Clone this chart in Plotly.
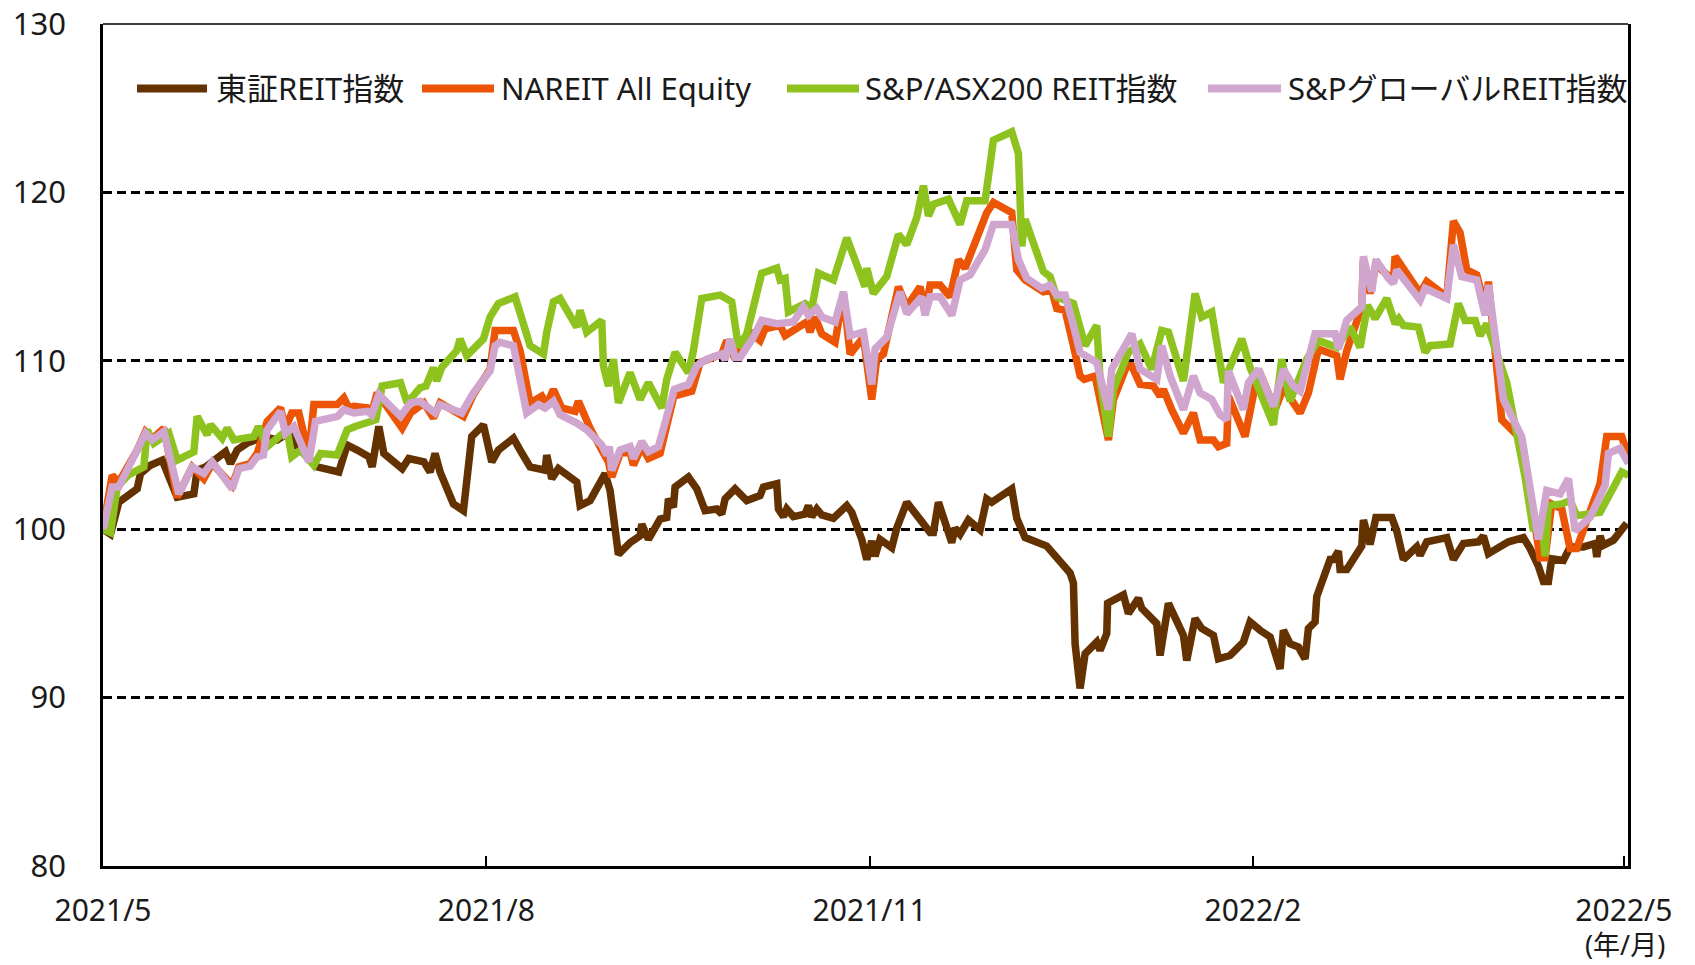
import pandas as pd
import plotly.graph_objects as go

# ---------------- data (index, start = 100) ----------------
START = "2021-05-01"
series_names = ["東証REIT指数", "NAREIT All Equity", "S&P/ASX200 REIT指数", "S&PグローバルREIT指数"]
series_colors = ["#633200", "#EB5505", "#8EC31F", "#D0A6CF"]

tse_days = [0, 1.8, 3.8, 8.2, 9, 11.4, 14.2, 17.8, 21.8, 22.6, 24.6, 29.4, 30.6, 32.2, 34.5, 38.6, 41.8, 45, 46.6,
            51.4, 56.6, 58.6, 61, 63.8, 64.6, 66.2, 67.4, 71.8, 73.4, 77, 78.5, 79.7, 80.9, 84.1, 86.5, 88.5, 91.3,
            93.3, 94.9, 98.5, 100.1, 102.5, 106.1, 106.5, 107.7, 109.3, 113.7, 114.5, 116.9, 120.5, 121.7, 123.7,
            126.5, 128.9, 129.3, 130.9, 133.7, 135.3, 135.7, 136.9, 137.3, 140.5, 142.5, 144.5, 147.3, 148.5, 149.3,
            151.7, 154.5, 157.7, 158.5, 161.7, 162.1, 163.3, 164.1, 165.7, 168.5, 169.3, 170.1, 171.3, 172.5, 175.3,
            178.5, 179.7, 182.1, 183.3, 184.5, 185.3, 186.5, 189.3, 190.5, 192.9, 196.5, 198.5, 199.3, 200.5, 203.7,
            204.5, 205.7, 207.7, 210.5, 212.1, 213.3, 218.1, 219.3, 221.3, 226.5, 228.5, 230.5, 232.1, 232.9, 233.3,
            234.5, 235.7, 238.5, 239.3, 240.9, 241.1, 244.9, 246.1, 248.5, 249.3, 252.9, 253.7, 255.7, 259.3, 260.1,
            262.1, 263.7, 266.5, 267.7, 270.5, 273.7, 275.3, 277.7, 280.1, 282.5, 283.3, 284.9, 286.9, 288.5, 289.3,
            290.9, 291.3, 294.5, 295.3, 296.5, 296.9, 298.5, 302.1, 302.5, 304.1, 305.5, 309.3, 310.5, 312.1, 315.3,
            316.1, 317.7, 322.5, 324.1, 326.5, 330.1, 331.3, 332.5, 337.3, 340.9, 342.5, 344.5, 345.7, 346.9, 347.7,
            350.5, 352.1, 355.3, 358.1, 358.5, 359.3, 360.1, 362.5, 365.7]
tse_vals = [100.0, 99.7, 101.6, 102.4, 103.3, 103.8, 104.1, 101.9, 102.1, 103.5, 103.7, 104.6, 103.9, 104.7, 105.1,
            105.5, 105.3, 105.8, 104.9, 103.7, 103.4, 105.0, 104.7, 104.3, 103.7, 106.1, 104.5, 103.6, 104.2, 104.0,
            103.4, 104.5, 103.4, 101.5, 101.1, 105.5, 106.2, 104.0, 104.7, 105.4, 104.7, 103.7, 103.5, 104.4, 103.0,
            103.6, 102.8, 101.4, 101.7, 103.3, 102.3, 98.5, 99.2, 99.6, 100.3, 99.4, 100.6, 100.7, 101.8, 101.3, 102.5,
            103.1, 102.4, 101.1, 101.2, 100.9, 101.8, 102.4, 101.7, 102.0, 102.5, 102.7, 101.2, 100.75, 101.2, 100.75,
            100.9, 101.4, 100.75, 101.2, 100.85, 100.65, 101.4, 101.0, 99.4, 98.2, 99.3, 98.4, 99.4, 98.9, 100.06,
            101.6, 100.45, 99.8, 99.8, 101.6, 99.2, 100.06, 99.7, 100.55, 99.96, 101.8, 101.6, 102.4, 100.65, 99.5,
            99.0, 98.4, 97.9, 97.4, 96.8, 93.2, 90.55, 92.6, 93.3, 92.8, 93.8, 95.6, 96.1, 95.0, 95.9, 95.3, 94.4,
            92.5, 95.6, 93.7, 92.2, 94.7, 94.1, 93.7, 92.3, 92.5, 93.3, 94.5, 94.0, 93.6, 91.7, 94.0, 93.2, 93.0,
            92.3, 94.1, 94.5, 96.0, 98.2, 98.2, 98.7, 97.6, 97.6, 99.0, 100.55, 99.1, 100.7, 100.7, 99.9, 98.2, 98.95,
            98.45, 99.25, 99.5, 98.2, 99.15, 99.25, 99.6, 98.55, 99.25, 99.5, 98.85, 97.8, 96.9, 96.9, 98.25, 98.15,
            98.95, 98.95, 99.15, 98.35, 99.6, 99.05, 99.35, 100.35]

nareit_days = [0, 2.2, 3.8, 8.2, 10.2, 12, 14.6, 17.8, 21.4, 24.2, 26.2, 31, 32.6, 35.3, 37, 39.4, 42.6, 43.8, 45.3,
               47, 49.4, 50.6, 56.2, 57.8, 59, 60.2, 63.5, 64.6, 65.8, 71.8, 73.8, 77, 79.3, 80.9, 86.5, 88.9, 92.9,
               94.1, 98.5, 100.1, 102.5, 105.3, 106.5, 108.1, 110.1, 113.3, 114.1, 116.9, 119.7, 121.3, 122.1, 124.1,
               126.5, 127.3, 129.3, 130.9, 133.7, 137, 141.3, 143.3, 148.5, 149.7, 151.7, 152.9, 155.3, 157.7, 158.9,
               162.5, 163.7, 166.1, 168.9, 169.7, 170.9, 172.5, 175.7, 177.7, 179.3, 182.5, 184.5, 185.7, 187.3,
               190.9, 192.9, 196.1, 197.3, 198.5, 200.9, 203.3, 205.3, 206.9, 210.5, 212.1, 213.7, 218.1, 219.3,
               221.3, 225.7, 227.7, 228.9, 230.9, 232.9, 234.5, 235.5, 238.1, 241.3, 242.5, 245.7, 246.9, 248.9,
               252.1, 253.7, 254.5, 256.5, 259.3, 261.7, 263.3, 266.5, 267.7, 269.7, 270.1, 274.1, 277.3, 281.3,
               283.3, 285.7, 287.3, 289.3, 291.7, 296.1, 296.9, 298.5, 302.1, 302.5, 304.1, 305.5, 309.7, 310.1,
               312.1, 316.1, 317.7, 322.5, 324.1, 325.7, 327.3, 329.7, 331.7, 332.5, 335.7, 340.5, 344.9, 346.1,
               347.7, 350.1, 352.1, 353.7, 359.3, 360.9, 364.5, 366.1]
nareit_vals = [100.0, 103.2, 102.8, 104.7, 105.8, 105.4, 106.0, 101.9, 103.7, 103.0, 103.9, 102.6, 103.7, 103.9,
               104.5, 106.4, 107.2, 106.0, 106.9, 106.9, 104.4, 107.4, 107.4, 107.8, 107.2, 107.3, 107.2, 107.0,
               108.1, 106.0, 106.9, 107.5, 106.6, 107.5, 106.7, 108.0, 109.5, 111.8, 111.8, 110.6, 107.5, 107.9,
               107.4, 108.3, 107.2, 107.0, 107.6, 106.0, 104.7, 104.0, 103.1, 104.5, 104.6, 103.8, 104.9, 104.2,
               104.5, 107.9, 108.2, 109.9, 110.4, 111.2, 110.1, 110.8, 111.7, 111.2, 111.9, 112.1, 111.5, 111.9,
               112.3, 111.7, 112.6, 111.6, 111.1, 114.0, 110.4, 111.4, 107.7, 110.1, 110.4, 114.4, 113.2, 114.4,
               112.9, 114.5, 114.5, 113.8, 116.0, 115.5, 118.0, 118.8, 119.4, 118.8, 115.4, 114.8, 114.1, 114.2,
               113.1, 113.0, 110.9, 109.1, 108.9, 109.1, 105.3, 107.7, 109.7, 109.7, 108.6, 108.5, 107.9, 108.3,
               107.1, 105.7, 106.9, 105.3, 105.3, 104.9, 105.1, 107.9, 105.5, 109.5, 107.1, 108.4, 107.5, 106.9,
               108.1, 110.7, 110.3, 108.9, 110.6, 113.2, 116.0, 114.0, 115.7, 114.8, 116.2, 115.4, 114.0, 114.7,
               113.8, 118.3, 117.6, 115.4, 115.1, 113.2, 114.7, 106.5, 105.3, 98.3, 98.3, 101.5, 101.2, 98.85,
               98.85, 102.7, 105.5, 105.5, 104.3]

asx_days = [0, 1.8, 3.4, 6, 9.8, 10.6, 12.2, 15.8, 17.8, 21.8, 22.6, 25, 25.8, 28.6, 29.8, 31.4, 36.2, 37.3, 39.4,
            44.2, 45.3, 47.4, 50.6, 52.2, 56.2, 58.6, 60.5, 63.4, 65.5, 67, 71.4, 73, 76.1, 77.5, 79.3, 80.1, 81.3,
            84.9, 85.7, 87.3, 91.3, 92.9, 94.9, 98.9, 102.5, 105.7, 106.5, 108.1, 109.7, 113.7, 114.5, 116.1, 119.7,
            120.1, 121.3, 122.5, 123.7, 126.5, 128.9, 130.9, 134.1, 135.3, 137.3, 140.5, 141.7, 143.7, 148.1, 150.9,
            152.5, 154.5, 158.1, 161.7, 162.5, 163.7, 164.5, 168.5, 170.1, 171.7, 175.3, 178.5, 180.1, 182.9, 183.3,
            184.9, 188.1, 190.9, 192.9, 195.3, 196.9, 198.1, 199.3, 202.9, 205.7, 207.3, 211.7, 213.7, 218.1, 219.7,
            220.5, 221.3, 225.7, 227.3, 228.9, 232.9, 235.7, 238.5, 239.3, 241.3, 242.5, 246.1, 248.9, 251.7, 254.1,
            255.7, 259.3, 262.1, 263.7, 266.1, 268.9, 273.3, 275.3, 280.9, 282.9, 284.9, 288.9, 291.7, 296.1, 299.3,
            301.7, 303.5, 305.3, 308.1, 310.1, 311, 312.1, 315.7, 317.3, 318.5, 323.3, 325.3, 326.9, 329.3, 330.5,
            332.1, 336.9, 338.5, 341.3, 343.3, 345.3, 346.1, 346.9, 350.1, 352.1, 353.7, 356.9, 359.3, 364.5, 366.1]
asx_vals = [100.0, 99.8, 102.5, 103.2, 103.7, 105.9, 105.1, 105.7, 104.1, 104.6, 106.7, 105.6, 106.2, 105.4, 106.0,
            105.3, 105.5, 106.1, 104.9, 105.9, 104.3, 104.7, 103.8, 104.5, 104.4, 105.9, 106.1, 106.3, 106.5, 108.5,
            108.7, 107.5, 108.4, 108.5, 109.6, 108.8, 109.6, 110.6, 111.3, 110.3, 111.3, 112.6, 113.4, 113.8, 110.9,
            110.4, 111.7, 113.5, 113.7, 112.0, 113.0, 111.7, 112.4, 109.7, 108.5, 110.1, 107.5, 109.3, 107.7, 108.7,
            107.2, 108.9, 110.5, 109.3, 110.6, 113.7, 113.9, 113.5, 110.8, 111.6, 115.2, 115.5, 114.8, 114.9, 112.9,
            113.4, 113.1, 115.2, 114.8, 117.3, 116.2, 114.4, 115.5, 114.0, 115.0, 117.5, 116.9, 118.5, 120.4, 118.6,
            119.3, 119.6, 118.1, 119.5, 119.5, 123.1, 123.6, 122.3, 116.8, 118.4, 115.3, 115.0, 113.8, 113.4, 110.9,
            112.1, 108.9, 105.5, 108.3, 110.5, 111.0, 109.5, 111.8, 111.7, 108.8, 114.0, 112.6, 112.9, 108.7, 111.3,
            109.6, 106.2, 110.1, 107.6, 110.1, 111.2, 110.8, 112.0, 110.8, 113.3, 112.5, 113.7, 112.2, 112.5, 112.1,
            112.0, 110.5, 110.9, 111.0, 113.4, 112.4, 112.4, 111.5, 112.2, 108.7, 106.7, 103.1, 99.9, 100.5, 98.4,
            101.4, 101.5, 101.7, 100.8, 100.9, 101.0, 103.4, 103.2]

global_days = [0, 2.2, 3.75, 6, 8.2, 10.2, 11.8, 14.6, 18.2, 21.4, 24.2, 26.2, 31, 32.6, 35.3, 37, 38.5, 39.4, 42.6,
               43.8, 45.8, 49.4, 51, 56.3, 57.8, 60.2, 63.5, 64.5, 66.2, 71.4, 73.8, 76.1, 79.7, 80.9, 86.1, 88.9,
               92.9, 94.1, 95.3, 98.5, 99.3, 101.7, 104.5, 106.1, 108.1, 109.7, 113.7, 116.1, 119.7, 120.9, 121.5,
               122.1, 124.1, 126.5, 127.3, 129.3, 130.9, 133.3, 137.1, 140.5, 142.5, 144.9, 148.5, 149.3, 150.5,
               151.7, 152.9, 156.1, 158.1, 161.7, 165.7, 168.1, 169.3, 171.3, 172.5, 175.7, 177.7, 179.3, 182.5,
               184.5, 185.3, 188.1, 191.3, 192.9, 196.5, 197.3, 198.5, 200.9, 203.7, 205.7, 208.1, 211.7, 213.7,
               218.1, 219.7, 221.7, 225.3, 227.3, 228.9, 230.9, 232.9, 234.5, 238.5, 241.3, 242.1, 244.9, 246.9,
               248.9, 252.9, 254.1, 256.1, 259.3, 261.7, 263.3, 266.1, 268.1, 269.7, 270.1, 273.7, 274.9, 277.3,
               280.9, 283.3, 285.7, 287.3, 290.9, 295.7, 296.5, 298.5, 302.1, 302.5, 304.5, 305.5, 308.5, 309.7,
               310.5, 316.1, 317.3, 322.5, 324.1, 326.1, 329.7, 331.7, 332.5, 336.1, 340.5, 344.5, 346.5, 349.7,
               351.7, 353.3, 356.9, 360.5, 361.3, 364.1, 366.1]
global_vals = [100.0, 102.5, 102.5, 103.5, 104.7, 105.7, 105.3, 105.8, 102.1, 103.7, 103.3, 104.0, 102.4, 103.6,
               103.75, 104.3, 104.4, 105.9, 107.0, 105.7, 106.1, 104.0, 106.4, 106.7, 107.1, 106.9, 107.0, 106.8,
               108.0, 106.7, 107.5, 107.6, 106.9, 107.4, 106.9, 108.1, 109.4, 110.9, 111.1, 110.9, 110.0, 106.9,
               107.4, 107.2, 107.6, 106.8, 106.3, 105.9, 105.0, 104.4, 104.9, 103.5, 104.7, 104.9, 104.2, 105.2,
               104.6, 104.9, 108.3, 108.6, 109.7, 110.1, 110.4, 110.05, 111.3, 110.2, 110.2, 111.4, 112.4, 112.2,
               112.3, 113.2, 112.7, 113.1, 112.6, 112.3, 114.1, 111.5, 111.7, 108.6, 110.7, 111.4, 114.1, 112.8,
               113.8, 112.7, 113.8, 113.8, 112.7, 114.8, 115.1, 116.6, 118.1, 118.1, 116.0, 114.9, 114.3, 114.5,
               113.9, 113.9, 112.1, 110.5, 109.9, 107.1, 109.5, 110.7, 111.6, 109.5, 108.9, 110.9, 109.1, 107.1,
               109.1, 108.1, 107.7, 106.8, 106.5, 109.4, 107.1, 108.7, 109.5, 107.3, 109.5, 108.5, 108.2, 111.6,
               111.6, 110.7, 112.4, 113.2, 116.2, 114.1, 116.0, 114.9, 114.6, 115.4, 113.6, 114.3, 113.7, 116.9,
               115.0, 114.8, 112.7, 114.5, 107.7, 105.5, 99.4, 102.3, 102.1, 103.0, 99.9, 100.7, 102.6, 104.5,
               104.8, 103.9]

x_tick_dates = ["2021-05-01", "2021-08-01", "2021-11-01", "2022-02-01", "2022-05-01"]
x_tick_labels = ["2021/5", "2021/8", "2021/11", "2022/2", "2022/5"]
y_ticks = [80, 90, 100, 110, 120, 130]
x_unit_label = "(年/月)"

# ---------------- figure ----------------
W, H = 1695, 965
ML, MR, MT, MB = 103, 67, 24, 99
FONT = "Noto Sans, Noto Sans CJK JP"
TXT = "#1a1a1a"

def to_dates(days):
    return pd.Timestamp(START) + pd.to_timedelta(days, unit="D")

all_days = [tse_days, nareit_days, asx_days, global_days]
all_vals = [tse_vals, nareit_vals, asx_vals, global_vals]

fig = go.Figure()
for name, color, d, v in zip(series_names, series_colors, all_days, all_vals):
    fig.add_trace(go.Scatter(x=to_dates(d), y=v, mode="lines", name=name, showlegend=False,
                             line=dict(color=color, width=7.5)))

# helpers: page pixel -> paper coords
pw = W - ML - MR
ph = H - MT - MB
def px_x(x):
    return (x - ML) / pw
def px_y(y):
    return (H - MB - y) / ph

# custom legend (long line samples like the reference)
leg_y = 88.5
leg_items = [(137, 207, 214), (422, 494, 499), (787, 859, 863), (1208, 1281, 1286)]
shapes = []
annotations = []
for (x0, x1, tx), name, color in zip(leg_items, series_names, series_colors):
    shapes.append(dict(type="line", xref="paper", yref="paper", x0=px_x(x0), x1=px_x(x1),
                       y0=px_y(leg_y), y1=px_y(leg_y), line=dict(color=color, width=8)))
    annotations.append(dict(xref="paper", yref="paper", x=px_x(tx), y=px_y(leg_y), text=name,
                            showarrow=False, xanchor="left", yanchor="middle",
                            font=dict(family=FONT, size=31, color=TXT)))

# top border
shapes.append(dict(type="line", xref="paper", yref="paper", x0=0, x1=1, y0=1, y1=1,
                   line=dict(color="black", width=1.5)))

annotations.append(dict(xref="paper", yref="paper", x=px_x(1625), y=px_y(944), text=x_unit_label,
                        showarrow=False, xanchor="center", yanchor="middle",
                        font=dict(family=FONT, size=27, color=TXT)))

fig.update_layout(
    width=W, height=H,
    margin=dict(l=ML, r=MR, t=MT, b=MB, pad=0),
    paper_bgcolor="white", plot_bgcolor="white",
    font=dict(family=FONT, size=30, color=TXT),
    shapes=shapes, annotations=annotations,
    showlegend=False,
)
fig.update_xaxes(
    type="date", range=["2021-05-01", "2022-05-02"],
    tickmode="array", tickvals=x_tick_dates, ticktext=x_tick_labels,
    ticks="inside", ticklen=10, tickwidth=2, tickcolor="black",
    showline=True, linecolor="black", linewidth=3,
    showgrid=False, zeroline=False, automargin=False,
    ticklabelstandoff=16, ticklabeloverflow="allow",
    tickfont=dict(family=FONT, size=30, color=TXT),
)
fig.update_yaxes(
    range=[80, 130], tickmode="array", tickvals=y_ticks,
    ticks="", showline=True, linecolor="black", linewidth=2.5, mirror=True,
    showgrid=True, gridcolor="black", gridwidth=2.5, griddash="9px,5px",
    zeroline=False, automargin=False, ticklabelstandoff=28, ticklabeloverflow="allow",
    tickfont=dict(family=FONT, size=31, color=TXT),
)

# the page is shown at exactly the figure size: drop the default body margin
fig.write_html("out.html",
               config={"displayModeBar": False},
               post_script="document.body.style.margin='0';document.body.style.overflow='hidden';")
